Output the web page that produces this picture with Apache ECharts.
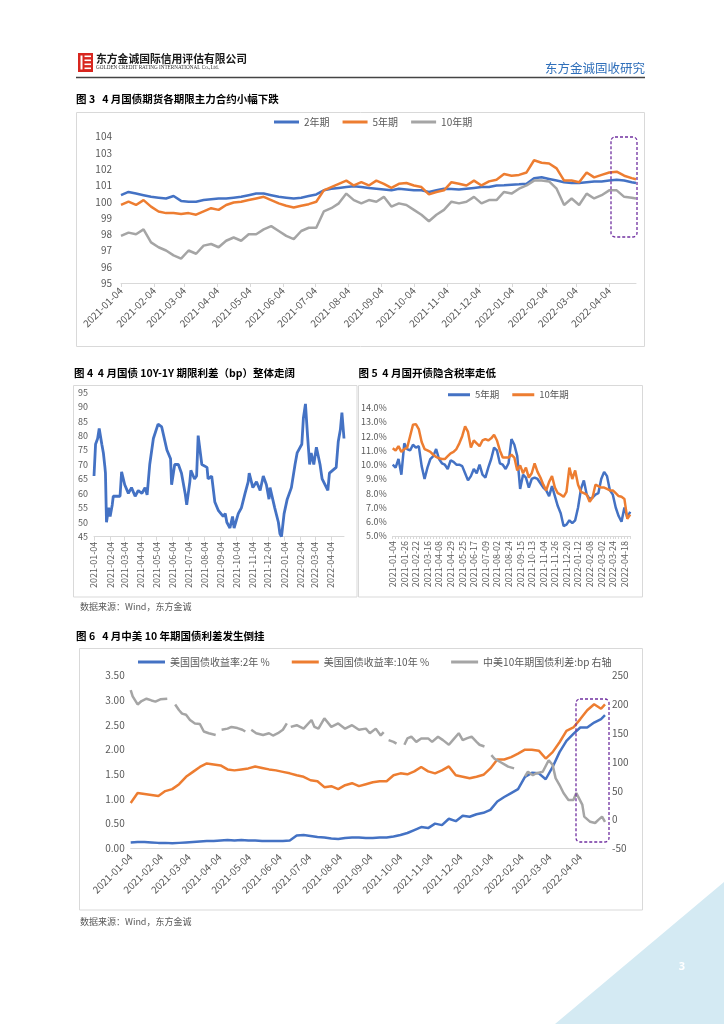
<!DOCTYPE html>
<html><head><meta charset="utf-8">
<script src="https://cdn.jsdelivr.net/npm/echarts@6/dist/echarts.min.js"></script>
<style>
html,body{margin:0;padding:0;background:#fff;}
#page{position:relative;width:724px;height:1024px;overflow:hidden;background:#fff;}
.layer{position:absolute;left:0;top:0;width:724px;height:1024px;}
</style></head><body>
<div id="page">
<div class="layer" id="bg"></div>
<div class="layer" id="c3"></div>
<div class="layer" id="c4"></div>
<div class="layer" id="c5"></div>
<div class="layer" id="c6"></div>
</div>
<script>
const FONT = "'Noto Sans CJK SC','Noto Sans',sans-serif";

// ---------- shared weekly dates (Fig 3, 6) ----------
const weekDates = ['2021-01-04','2021-01-11','2021-01-18','2021-01-25','2021-02-01','2021-02-08','2021-02-15','2021-02-22','2021-03-01','2021-03-08','2021-03-15','2021-03-22','2021-03-29','2021-04-05','2021-04-12','2021-04-19','2021-04-26','2021-05-03','2021-05-10','2021-05-17','2021-05-24','2021-05-31','2021-06-07','2021-06-14','2021-06-21','2021-06-28','2021-07-05','2021-07-12','2021-07-19','2021-07-26','2021-08-02','2021-08-09','2021-08-16','2021-08-23','2021-08-30','2021-09-06','2021-09-13','2021-09-20','2021-09-27','2021-10-04','2021-10-11','2021-10-18','2021-10-25','2021-11-01','2021-11-08','2021-11-15','2021-11-22','2021-11-29','2021-12-06','2021-12-13','2021-12-20','2021-12-27','2022-01-03','2022-01-10','2022-01-17','2022-01-24','2022-01-31','2022-02-07','2022-02-14','2022-02-21','2022-02-28','2022-03-07','2022-03-14','2022-03-21','2022-03-28','2022-04-04','2022-04-11','2022-04-18','2022-04-25','2022-04-29'];
const tickDates = ['2021-01-04','2021-02-04','2021-03-04','2021-04-04','2021-05-04','2021-06-04','2021-07-04','2021-08-04','2021-09-04','2021-10-04','2021-11-04','2021-12-04','2022-01-04','2022-02-04','2022-03-04','2022-04-04'];

// ---------- Fig 3: treasury futures ----------
const fut2y = [100.4,100.6,100.5,100.4,100.3,100.25,100.2,100.35,100.05,100.0,100.0,100.1,100.15,100.2,100.2,100.25,100.3,100.4,100.5,100.5,100.4,100.3,100.25,100.2,100.25,100.35,100.45,100.7,100.8,100.85,100.9,
100.95,100.9,100.85,100.8,100.75,100.7,100.8,100.75,100.7,100.7,100.6,100.7,100.8,100.78,100.75,100.8,100.85,100.9,100.9,101.0,101.02,101.05,101.07,101.1,101.45,101.5,101.4,101.3,101.2,101.15,101.15,101.2,101.25,101.25,101.3,101.35,101.3,101.2,101.15];
const fut5y = [99.8,100.0,99.8,100.1,99.7,99.4,99.3,99.3,99.25,99.3,99.2,99.4,99.6,99.5,99.8,99.95,100.0,100.1,100.2,100.3,100.1,99.9,99.75,99.65,99.75,99.85,100.0,100.7,100.9,101.1,101.3,
101.0,101.2,101.0,101.3,101.1,100.85,101.1,101.15,101.0,100.9,100.45,100.6,100.7,101.2,101.1,101.0,101.3,101.0,101.25,101.35,101.7,101.6,101.65,101.8,102.55,102.4,102.35,102.05,101.3,101.3,101.2,101.8,101.5,101.65,101.8,101.85,101.6,101.45,101.38];
const fut10y = [97.9,98.1,98.0,98.3,97.5,97.2,97.0,96.7,96.5,97.0,96.8,97.3,97.4,97.2,97.6,97.8,97.6,98.0,98.0,98.3,98.5,98.2,97.9,97.7,98.2,98.4,98.4,99.4,99.6,99.9,100.5,
100.1,99.9,100.1,100.0,100.3,99.7,99.9,99.8,99.5,99.2,98.8,99.2,99.5,100.0,99.9,100.0,100.3,99.9,100.1,100.1,100.6,100.5,100.8,101.0,101.3,101.3,101.25,100.8,99.8,100.2,99.8,100.5,100.2,100.4,100.7,100.7,100.3,100.25,100.2];

// ---------- Fig 4: 10Y-1Y spread (bp) ----------
const spreadDates = ['2021-01-04','2021-01-07','2021-01-11','2021-01-14','2021-01-15','2021-01-19','2021-01-22','2021-01-25','2021-01-26','2021-01-28','2021-02-01','2021-02-04','2021-02-08','2021-02-10','2021-02-23','2021-02-26','2021-03-04','2021-03-11','2021-03-17','2021-03-24','2021-03-30','2021-04-06','2021-04-12','2021-04-16','2021-04-21','2021-04-28','2021-05-07','2021-05-14','2021-05-24','2021-05-31','2021-06-02','2021-06-08','2021-06-15','2021-06-21','2021-06-28','2021-07-01','2021-07-07','2021-07-09','2021-07-16','2021-07-20','2021-07-23','2021-07-30','2021-08-09','2021-08-11','2021-08-18','2021-08-24','2021-08-31','2021-09-09','2021-09-13','2021-09-16','2021-09-22','2021-09-27','2021-09-30','2021-10-08','2021-10-14','2021-10-21','2021-10-27','2021-10-29','2021-11-05','2021-11-12','2021-11-19','2021-11-25','2021-12-01','2021-12-06','2021-12-08','2021-12-17','2021-12-24','2021-12-27','2021-12-30','2022-01-04','2022-01-10','2022-01-18','2022-01-25','2022-01-29','2022-02-07','2022-02-10','2022-02-14','2022-02-18','2022-02-22','2022-02-25','2022-03-02','2022-03-07','2022-03-14','2022-03-18','2022-03-29','2022-04-01','2022-04-14','2022-04-18','2022-04-22','2022-04-25','2022-04-27','2022-04-29'];
const spreadValues = [66,77,79,82.5,82,77,74,69,67,50,55,52,56,59,59,67.5,63,60,62,59,61,60,62,59.5,70,79,84,83,75,72,63,70,70,67,60,56,64,68,65,66,80,70,69,65,66,57,54,52,53,50,48,52,48,53,55,60,64,67,62,64,61,66,63,58,62,55,50,46,45,53,58,62,70,74,77,86,91,80,70,74,70,76,70,65,61,67,69,78,82,88,88.5,79];

// ---------- Fig 5: CDB implied tax rate (%) ----------
const cdbDates = ['2021-01-04','2021-01-08','2021-01-14','2021-01-20','2021-01-26','2021-02-01','2021-02-05','2021-02-10','2021-02-22','2021-02-26','2021-03-04','2021-03-10','2021-03-16','2021-03-22','2021-03-26','2021-04-01','2021-04-08','2021-04-14','2021-04-20','2021-04-25','2021-04-29','2021-05-08','2021-05-13','2021-05-19','2021-05-25','2021-05-31','2021-06-04','2021-06-10','2021-06-17','2021-06-23','2021-06-29','2021-07-05','2021-07-09','2021-07-15','2021-07-21','2021-07-27','2021-08-02','2021-08-06','2021-08-12','2021-08-18','2021-08-24','2021-08-30','2021-09-03','2021-09-09','2021-09-15','2021-09-22','2021-09-27','2021-10-08','2021-10-13','2021-10-19','2021-10-25','2021-10-29','2021-11-04','2021-11-10','2021-11-16','2021-11-22','2021-11-26','2021-12-02','2021-12-08','2021-12-14','2021-12-20','2021-12-24','2021-12-30','2022-01-06','2022-01-12','2022-01-18','2022-01-24','2022-01-28','2022-02-08','2022-02-14','2022-02-18','2022-02-24','2022-03-02','2022-03-08','2022-03-14','2022-03-18','2022-03-24','2022-03-30','2022-04-06','2022-04-12','2022-04-18','2022-04-22','2022-04-27'];
const cdb5y = [10.0,9.8,10.4,9.3,11.5,11.1,11.0,11.4,11.2,11.3,9.9,9.0,9.8,10.4,10.6,11.1,10.4,10.1,10.0,9.7,10.3,10.2,10.0,10.0,9.9,9.4,8.9,9.2,9.7,9.4,10.0,9.3,9.1,9.8,10.4,11.2,11.0,10.1,10.0,9.7,10.1,11.8,11.4,10.6,8.3,9.3,9.1,8.4,9.0,9.1,9.0,8.7,8.4,8.2,7.8,8.5,7.8,7.1,6.6,5.7,5.8,6.1,5.9,6.1,7.0,8.3,8.9,7.9,7.6,7.7,7.9,8.0,9.0,9.5,9.2,8.2,7.9,7.0,6.4,6.0,7.0,6.3,6.7];
const cdb10y = [11.15,11.0,11.3,10.9,11.1,11.2,12.0,12.8,12.85,12.5,11.6,11.1,11.0,10.9,10.7,10.55,10.45,10.4,10.4,10.6,10.8,10.9,11.1,11.5,12.0,12.7,12.3,11.2,11.7,11.5,11.3,11.7,11.8,11.7,11.85,12.1,11.7,11.0,10.5,10.5,10.5,10.7,10.5,9.6,9.95,9.4,9.8,9.1,9.4,10.1,9.5,9.1,8.6,8.2,8.8,9.2,8.4,8.0,7.9,7.75,8.1,9.8,9.0,9.6,8.6,8.1,8.0,7.9,7.4,7.7,8.6,8.5,8.4,8.4,8.3,8.2,8.2,8.0,7.8,7.75,7.6,6.2,6.5];

// ---------- Fig 6: US yields (%) and CN-US 10Y spread (bp) ----------
const us2y = [0.12,0.13,0.13,0.12,0.11,0.11,0.10,0.11,0.12,0.13,0.14,0.15,0.15,0.16,0.17,0.16,0.17,0.16,0.16,0.15,0.15,0.15,0.15,0.16,0.26,0.27,0.25,0.23,0.22,0.20,0.19,0.21,0.22,0.22,0.21,0.21,0.22,
0.22,0.24,0.27,0.31,0.37,0.43,0.41,0.50,0.47,0.60,0.55,0.66,0.64,0.69,0.72,0.78,0.95,1.04,1.12,1.20,1.45,1.53,1.52,1.40,1.65,1.95,2.18,2.32,2.45,2.45,2.55,2.62,2.70];
const us10y = [0.92,1.12,1.10,1.08,1.06,1.16,1.20,1.30,1.45,1.55,1.65,1.72,1.70,1.68,1.60,1.58,1.60,1.62,1.66,1.63,1.60,1.58,1.55,1.52,1.48,1.45,1.38,1.36,1.24,1.26,1.20,1.28,1.32,1.26,1.30,1.34,1.36,
1.36,1.48,1.52,1.50,1.56,1.65,1.56,1.52,1.58,1.66,1.48,1.45,1.42,1.45,1.49,1.62,1.80,1.80,1.85,1.92,2.00,2.00,1.98,1.82,1.95,2.15,2.38,2.45,2.62,2.80,2.92,2.83,2.92];
const cnusDates = ['2021-01-04','2021-01-06','2021-01-11','2021-01-15','2021-01-20','2021-01-25','2021-01-29','2021-02-03','2021-02-10','2021-02-11','2021-02-18','2021-02-22','2021-02-25','2021-03-01','2021-03-05','2021-03-10','2021-03-15','2021-03-19','2021-03-24','2021-03-31','2021-04-02','2021-04-06','2021-04-12','2021-04-16','2021-04-22','2021-04-27','2021-04-30','2021-05-03','2021-05-06','2021-05-11','2021-05-18','2021-05-24','2021-05-28','2021-06-02','2021-06-07','2021-06-11','2021-06-14','2021-06-15','2021-06-21','2021-06-28','2021-07-06','2021-07-09','2021-07-13','2021-07-19','2021-07-26','2021-08-02','2021-08-09','2021-08-16','2021-08-23','2021-08-30','2021-09-03','2021-09-09','2021-09-14','2021-09-17','2021-09-20','2021-09-22','2021-09-27','2021-09-30','2021-10-04','2021-10-08','2021-10-11','2021-10-15','2021-10-20','2021-10-25','2021-11-01','2021-11-05','2021-11-11','2021-11-16','2021-11-22','2021-11-26','2021-12-02','2021-12-06','2021-12-10','2021-12-15','2021-12-20','2021-12-23','2021-12-28','2021-12-31','2022-01-04','2022-01-07','2022-01-13','2022-01-18','2022-01-21','2022-01-27','2022-01-31','2022-02-07','2022-02-10','2022-02-15','2022-02-18','2022-02-25','2022-03-03','2022-03-07','2022-03-10','2022-03-14','2022-03-18','2022-03-23','2022-03-28','2022-03-31','2022-04-06','2022-04-08','2022-04-14','2022-04-19','2022-04-22','2022-04-26','2022-04-29'];
const cnusSpread = [225,214,200,206,210,207,205,209,210,null,200,190,184,182,173,167,166,153,150,147,null,156,158,161,159,156,153,null,156,150,147,150,146,150,156,167,null,161,164,158,173,161,158,176,161,167,158,164,156,158,150,158,146,152,null,138,135,132,null,130,141,144,135,141,141,135,144,138,130,138,150,138,141,144,135,130,127,null,112,106,100,95,92,89,null,75,83,77,80,83,103,95,72,60,46,34,34,46,26,5,-4,-6,-1,5,-4];

// ---------- helpers ----------
function ts(s){ const p = s.split('-').map(Number); return new Date(p[0], p[1]-1, p[2]).getTime(); }
const tickTs = tickDates.map(ts);
function labelFor(v){ const i = tickTs.indexOf(v); return i >= 0 ? tickDates[i] : ''; }
const GREY_TXT = '#595959', AXIS_C = '#d9d9d9';
const BLUE = '#4472c4', ORANGE = '#ed7d31', GREY = '#a5a5a5', PURPLE = '#7030a0';

// date axis: a value axis over timestamps, with labels/ticks on the 4th of each month
function dateAxis(o){
  return {type:'value', min: ts('2021-01-04'), max: ts('2022-04-29'), scale:true,
    axisLine:{show:true, onZero:false, lineStyle:{color:AXIS_C, width:1}},
    axisTick:{show:o.tick, customValues: tickTs, length:4, lineStyle:{color:AXIS_C}},
    axisLabel:{customValues: tickTs, rotate:o.rotate, margin:o.margin, fontSize:o.fs, color:GREY_TXT, fontFamily:FONT,
      showMinLabel:true, showMaxLabel:true, formatter: v => labelFor(v)},
    splitLine:{show:false}, minorTick:{show:false}};
}
function valAxis(o){
  return Object.assign({type:'value', min:o.min, max:o.max, interval:o.interval,
    axisLine:{show:false}, axisTick:{show:false}, splitLine:{show:false},
    axisLabel:{fontSize:o.fs, color:GREY_TXT, margin:o.margin, fontFamily:FONT, formatter:o.fmt}}, o.extra||{});
}
function lineS(name, data, color, w, yIdx){
  return {name, type:'line', data, yAxisIndex:yIdx||0, showSymbol:false, symbol:'none', color,
    lineStyle:{color, width:w}, itemStyle:{color}, emphasis:{disabled:true}, silent:true, animation:false};
}
function pairs(dates, vals){ return dates.map((d,i)=>[ts(d), vals[i]==null ? '-' : vals[i]]); }
function legendOf(o){
  return {left:o.left, top:o.top, icon:'rect', itemWidth:o.iw, itemHeight:3, itemGap:o.gap, selectedMode:false,
    textStyle:{fontSize:o.fs, color:GREY_TXT, fontFamily:FONT}, data:o.data};
}
function txt(x,y,t,o){ return {type:'text', x, y, silent:true, style:Object.assign({text:t, fontFamily:FONT, fontSize:10.5, fontWeight:'bold', fill:'#000', verticalAlign:'middle'}, o||{})}; }
function box(x,y,w,h,c){ return {type:'rect', silent:true, shape:{x,y,width:w,height:h}, style:{fill:'none', stroke:c||'#d9d9d9', lineWidth:1}}; }
function dashBox(x,y,w,h){ return {type:'rect', silent:true, z:100, shape:{x,y,width:w,height:h,r:4}, style:{fill:'none', stroke:PURPLE, lineWidth:1.3, lineDash:[3,2]}}; }

// ---------- background / page furniture ----------
const bg = echarts.init(document.getElementById('bg'));
bg.setOption({animation:false, graphic:[
  {type:'rect', silent:true, shape:{x:78,y:53,width:15,height:19}, style:{fill:'#d8261f'}},
  {type:'rect', silent:true, shape:{x:80.5,y:55.5,width:2,height:14}, style:{fill:'#fff'}},
  {type:'rect', silent:true, shape:{x:84.5,y:55.5,width:6.5,height:1.6}, style:{fill:'#fff'}},
  {type:'rect', silent:true, shape:{x:84.5,y:59.5,width:6.5,height:1.6}, style:{fill:'#fff'}},
  {type:'rect', silent:true, shape:{x:84.5,y:63.5,width:6.5,height:1.6}, style:{fill:'#fff'}},
  {type:'rect', silent:true, shape:{x:84.5,y:67.5,width:6.5,height:1.6}, style:{fill:'#fff'}},
  txt(96, 58.5, '东方金诚国际信用评估有限公司', {fontSize:10.8, fill:'#1a1a1a'}),
  txt(96, 68, 'GOLDEN CREDIT RATING INTERNATIONAL Co.,Ltd.', {fontSize:5.2, fontWeight:'normal', fontFamily:"'Liberation Serif',serif", fill:'#333'}),
  txt(645, 68, '东方金诚固收研究', {fontSize:12.5, fontWeight:'normal', fill:'#2f6fba', align:'right'}),
  {type:'line', silent:true, shape:{x1:76,y1:77.5,x2:645,y2:77.5}, style:{stroke:'#444', lineWidth:1.5}},
  txt(76, 99, '图 3   4 月国债期货各期限主力合约小幅下跌'),
  box(76.5, 112.5, 568, 234),
  txt(74, 373.5, '图 4  4 月国债 10Y-1Y 期限利差（bp）整体走阔'),
  box(73.5, 385.5, 283.5, 211.5),
  txt(358.5, 373.5, '图 5  4 月国开债隐含税率走低'),
  box(358.5, 385.5, 284, 211.5),
  txt(80, 607, '数据来源：Wind，东方金诚', {fontSize:9, fontWeight:'normal', fill:GREY_TXT}),
  txt(76, 636.5, '图 6   4 月中美 10 年期国债利差发生倒挂'),
  box(79.5, 648.5, 563, 261.5),
  txt(80, 921.5, '数据来源：Wind，东方金诚', {fontSize:9, fontWeight:'normal', fill:GREY_TXT}),
  {type:'polygon', silent:true, shape:{points:[[555,1024],[724,882],[724,1024]]}, style:{fill:'#d4eaf3'}},
  txt(682, 967, '3', {fontSize:11, fill:'#fff', align:'center', fontFamily:"'Noto Sans',sans-serif"})
]});

// ---------- Fig 3 ----------
const c3 = echarts.init(document.getElementById('c3'));
c3.setOption({animation:false, textStyle:{fontFamily:FONT},
  legend: legendOf({left:269, top:112, iw:25, gap:13, fs:10, data:['2年期','5年期','10年期']}),
  grid:{left:121, top:136.7, width:515, height:146.3},
  xAxis: dateAxis({rotate:45, fs:10, margin:6, tick:true}),
  yAxis: valAxis({min:95, max:104, interval:1, fs:10, margin:9}),
  series:[lineS('2年期', pairs(weekDates, fut2y), BLUE, 2.5), lineS('5年期', pairs(weekDates, fut5y), ORANGE, 2.5), lineS('10年期', pairs(weekDates, fut10y), GREY, 2.5)],
  graphic:[dashBox(611, 137, 26, 100)]
});

// ---------- Fig 4 ----------
const c4 = echarts.init(document.getElementById('c4'));
c4.setOption({animation:false, textStyle:{fontFamily:FONT},
  grid:{left:94, top:392.3, width:250, height:144.4},
  xAxis: dateAxis({rotate:90, fs:9, margin:5, tick:true}),
  yAxis: valAxis({min:45, max:95, interval:5, fs:9, margin:6}),
  series:[lineS('10Y-1Y', pairs(spreadDates, spreadValues), BLUE, 2.8)]
});

// ---------- Fig 5 ----------
const c5 = echarts.init(document.getElementById('c5'));
c5.setOption({animation:false, textStyle:{fontFamily:FONT},
  legend: legendOf({left:443, top:385, iw:22, gap:13, fs:9.5, data:['5年期','10年期']}),
  grid:{left:392.7, top:407.7, width:237.5, height:128.3},
  xAxis:{type:'category', data:cdbDates, boundaryGap:false,
    axisLine:{show:true, lineStyle:{color:AXIS_C}},
    axisTick:{show:true, interval:0, length:3, lineStyle:{color:AXIS_C}},
    axisLabel:{interval:3, rotate:90, margin:5, fontSize:9, color:GREY_TXT, fontFamily:FONT},
    splitLine:{show:false}},
  yAxis: valAxis({min:5, max:14, interval:1, fs:9, margin:6, fmt: v => v.toFixed(1) + '%'}),
  series:[lineS('5年期', cdb5y, BLUE, 2.5), lineS('10年期', cdb10y, ORANGE, 2.5)]
});

// ---------- Fig 6 ----------
const c6 = echarts.init(document.getElementById('c6'));
c6.setOption({animation:false, textStyle:{fontFamily:FONT},
  legend: legendOf({left:133, top:652, iw:27, gap:22, fs:10, data:['美国国债收益率:2年 %','美国国债收益率:10年 %','中美10年期国债利差:bp 右轴']}),
  grid:{left:130.7, top:675.7, width:474.3, height:172.6},
  xAxis: dateAxis({rotate:45, fs:10, margin:7, tick:false}),
  yAxis:[valAxis({min:0, max:3.5, interval:0.5, fs:10, margin:6, fmt: v => v.toFixed(2)}),
         valAxis({min:-50, max:250, interval:50, fs:10, margin:7, extra:{position:'right'}})],
  series:[lineS('美国国债收益率:2年 %', pairs(weekDates, us2y), BLUE, 2.5, 0),
          lineS('美国国债收益率:10年 %', pairs(weekDates, us10y), ORANGE, 2.5, 0),
          lineS('中美10年期国债利差:bp 右轴', pairs(cnusDates, cnusSpread), GREY, 2.5, 1)],
  graphic:[dashBox(576, 699, 33, 143)]
});
</script>
</body></html>
